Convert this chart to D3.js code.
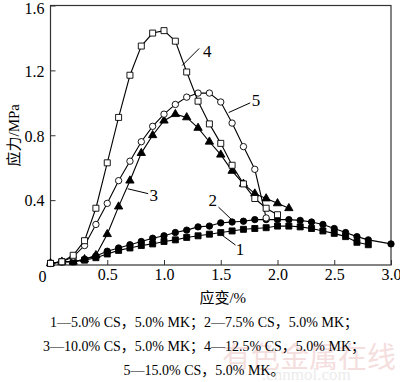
<!DOCTYPE html>
<html>
<head>
<meta charset="utf-8">
<script src="https://cdn.jsdelivr.net/npm/d3@7"></script>
<style>
body{margin:0;background:#fff;}
svg{display:block;}
text{font-family:"Liberation Serif","Noto Sans CJK SC",serif;fill:#000;}
</style>
</head>
<body>
<script>
// strain (%) for each series
const strain4=[0,0.1,0.2,0.3,0.4,0.5,0.6,0.7,0.8,0.9,1.0,1.1,1.2,1.3,1.4,1.5,1.6,1.7,1.8,1.9,2.0];
const stress4=[0.01,0.02,0.06,0.15,0.35,0.63,0.91,1.17,1.35,1.43,1.445,1.38,1.19,1.01,0.87,0.75,0.615,0.50,0.41,0.35,0.31];

const strain5=[0,0.1,0.2,0.3,0.4,0.5,0.6,0.7,0.8,0.9,1.0,1.1,1.2,1.3,1.4,1.5,1.6,1.7,1.8,1.9];
const stress5=[0.01,0.02,0.05,0.12,0.25,0.38,0.52,0.64,0.76,0.855,0.93,0.99,1.035,1.06,1.06,1.005,0.875,0.73,0.59,0.29];

const strain3=[0,0.1,0.2,0.3,0.4,0.5,0.6,0.7,0.8,0.9,1.0,1.1,1.2,1.3,1.4,1.5,1.6,1.7,1.8,1.9,2.0,2.1];
const stress3=[0.01,0.02,0.02,0.035,0.06,0.19,0.36,0.52,0.69,0.80,0.89,0.93,0.91,0.845,0.76,0.68,0.58,0.50,0.44,0.41,0.38,0.35];

const strain2=[0,0.1,0.2,0.3,0.4,0.5,0.6,0.7,0.8,0.9,1.0,1.1,1.2,1.3,1.4,1.5,1.6,1.7,1.8,1.9,2.0,2.1,2.2,2.3,2.4,2.5,2.6,2.7,2.8,3.0];
const stress2=[0.01,0.02,0.02,0.035,0.055,0.085,0.105,0.125,0.145,0.165,0.18,0.2,0.215,0.235,0.24,0.26,0.265,0.27,0.28,0.28,0.28,0.28,0.275,0.265,0.25,0.225,0.2,0.175,0.155,0.13];

const strain1=[0,0.1,0.2,0.3,0.4,0.5,0.6,0.7,0.8,0.9,1.0,1.1,1.2,1.3,1.4,1.5,1.6,1.7,1.8,1.9,2.0,2.1,2.2,2.3,2.4,2.5,2.6,2.7,2.8];
const stress1=[0.01,0.02,0.02,0.03,0.045,0.068,0.09,0.105,0.12,0.13,0.145,0.155,0.17,0.18,0.19,0.2,0.21,0.22,0.225,0.23,0.24,0.24,0.235,0.225,0.21,0.195,0.175,0.14,0.125];

const xTicks=[0.5,1.0,1.5,2.0,2.5,3.0];
const yTicks=[0.4,0.8,1.2,1.6];
const xTitle="应变/%";
const yTitle="应力/MPa";
const notes=["1—5.0% CS，5.0% MK；2—7.5% CS，5.0% MK；",
             "3—10.0% CS，5.0% MK；4—12.5% CS，5.0% MK；",
             "5—15.0% CS，5.0% MK。"];

const w=400,h=382;
const padL=50.5,padR=391,padT=5.5,padB=265;

const svg=d3.select("body").append("svg")
    .attr("width",w)
    .attr("height",h);

// watermark
svg.append("text")
    .attr("x",222).attr("y",368)
    .style("font-family","Noto Sans CJK SC")
    .style("font-size","29px")
    .style("fill","#f5dede")
    .text("有色金属在线");
svg.append("text")
    .attr("x",262).attr("y",380)
    .style("font-size","17px")
    .style("fill","#ececec")
    .text(".cnnmol.com");

const x=d3.scaleLinear().domain([0,3]).range([padL,padR]);
const y=d3.scaleLinear().domain([0,1.6]).range([padB,padT]);

// frame
svg.append("rect")
    .attr("x",padL).attr("y",padT)
    .attr("width",padR-padL).attr("height",padB-padT)
    .attr("fill","none").attr("stroke","#333").attr("stroke-width",1.2);

const xAxis=d3.axisBottom(x).tickValues(xTicks).tickFormat(d3.format(".1f"))
    .tickSizeInner(-5).tickSizeOuter(0).tickPadding(4);
const yAxis=d3.axisLeft(y).tickValues(yTicks).tickFormat(d3.format(".1f"))
    .tickSizeInner(-5).tickSizeOuter(0).tickPadding(6);

const gx=svg.append("g").attr("transform","translate(0,"+padB+")").call(xAxis);
const gy=svg.append("g").attr("transform","translate("+padL+",0)").call(yAxis);
[gx,gy].forEach(g=>{
    g.attr("font-family",null).attr("font-size",null);
    g.select(".domain").remove();
    g.selectAll("line").attr("stroke","#333");
    g.selectAll("text").style("font-size","16px").style("font-family","Liberation Serif").attr("fill","#000");
});
gy.selectAll(".tick text").attr("dy","0.36em");
gy.selectAll(".tick").filter(d=>d===1.6).select("text").attr("dy","0.5em");

svg.append("text")
    .attr("x",padL-4).attr("y",padB+17)
    .attr("text-anchor","end")
    .style("font-size","16px")
    .text("0");

// axis titles
svg.append("text")
    .attr("x",(padL+padR)/2+2).attr("y",303)
    .attr("text-anchor","middle")
    .style("font-size","15px")
    .text(xTitle);
svg.append("text")
    .attr("transform","translate(19,"+((padT+padB)/2)+") rotate(-90)")
    .attr("text-anchor","middle")
    .style("font-size","15px")
    .text(yTitle);

// curves
const line=d3.line().x(d=>x(d[0])).y(d=>y(d[1]));
const series=[
    {xs:strain1,ys:stress1,shape:"square",fill:"#000"},
    {xs:strain2,ys:stress2,shape:"circle",fill:"#000"},
    {xs:strain3,ys:stress3,shape:"triangle",fill:"#000"},
    {xs:strain5,ys:stress5,shape:"circle",fill:"#fff"},
    {xs:strain4,ys:stress4,shape:"square",fill:"#fff"}
];
const symbols={square:d3.symbolSquare,circle:d3.symbolCircle,triangle:d3.symbolTriangle};
const sizes={square:36,circle:32,triangle:30};

series.forEach(s=>{
    const pts=s.xs.map((v,i)=>[v,s.ys[i]]);
    svg.append("path")
        .datum(pts)
        .attr("d",line)
        .attr("fill","none")
        .attr("stroke","#000")
        .attr("stroke-width",1.1);
    svg.selectAll(null)
        .data(pts)
        .enter()
        .append("path")
        .attr("transform",d=>"translate("+x(d[0])+","+y(d[1])+")")
        .attr("d",d3.symbol().type(symbols[s.shape]).size(sizes[s.shape]))
        .attr("fill",s.fill)
        .attr("stroke","#000")
        .attr("stroke-width",0.9);
});

// curve labels with leader lines
const labels=[
    {t:"4",tx:1.38,ty:1.32,l:[[1.16,1.23],[1.31,1.335]]},
    {t:"5",tx:1.81,ty:1.015,l:[[1.57,0.94],[1.76,1.0]]},
    {t:"3",tx:0.91,ty:0.43,l:[[0.68,0.47],[0.86,0.44]]},
    {t:"2",tx:1.43,ty:0.40,l:[[1.48,0.357],[1.60,0.277]]},
    {t:"1",tx:1.67,ty:0.10,l:[[1.51,0.185],[1.63,0.123]]}
];
labels.forEach(d=>{
    svg.append("line")
        .attr("x1",x(d.l[0][0])).attr("y1",y(d.l[0][1]))
        .attr("x2",x(d.l[1][0])).attr("y2",y(d.l[1][1]))
        .attr("stroke","#000").attr("stroke-width",1);
    svg.append("text")
        .attr("x",x(d.tx)).attr("y",y(d.ty))
        .attr("text-anchor","middle")
        .attr("dy","0.35em")
        .style("font-size","17px")
        .text(d.t);
});

// notes
notes.forEach((n,i)=>{
    svg.append("text")
        .attr("x",w/2+4).attr("y",327+i*24)
        .attr("text-anchor","middle")
        .style("font-size","14px")
        .text(n);
});
</script>
</body>
</html>
